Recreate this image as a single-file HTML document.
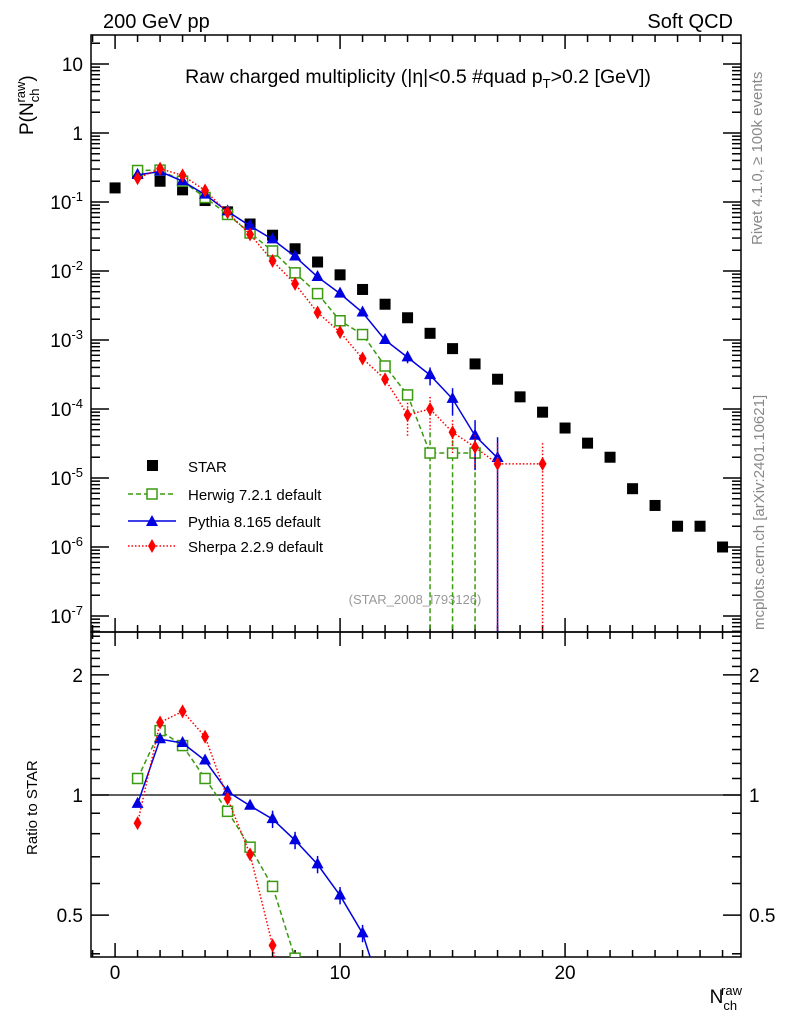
<!DOCTYPE html>
<html><head><meta charset="utf-8">
<style>
html,body{margin:0;padding:0;background:#fff;overflow:hidden;width:786px;height:1024px;}
svg{display:block;font-family:"Liberation Sans",sans-serif;}
</style></head>
<body>
<svg id="chart" width="786" height="1024" viewBox="0 0 786 1024">
<text x="103" y="28" font-size="20">200 GeV pp</text>
<text x="733" y="28" font-size="20" text-anchor="end">Soft QCD</text>
<rect x="91" y="35" width="650" height="597" fill="none" stroke="#000" stroke-width="1.5"/>
<rect x="91" y="632" width="650" height="325" fill="none" stroke="#000" stroke-width="1.5"/>
<text x="418" y="83" font-size="19.5" text-anchor="middle">Raw charged multiplicity (|η|&lt;0.5 #quad p<tspan font-size="13" dy="5">T</tspan><tspan dy="-5">&gt;0.2 [GeV])</tspan></text>
<text transform="translate(33,135) rotate(-90)" font-size="19">P(N<tspan font-size="13" dy="6">ch</tspan><tspan font-size="13" dy="-14" dx="-14">raw</tspan><tspan dy="8">)</tspan></text>
<text transform="translate(37,855) rotate(-90)" font-size="15">Ratio to STAR</text>
<text x="742" y="1003" font-size="19" text-anchor="end">N<tspan font-size="13" dy="7">ch</tspan><tspan font-size="13" dy="-15" dx="-16">raw</tspan></text>
<text transform="translate(762,245) rotate(-90)" font-size="15" fill="#888">Rivet 4.1.0, ≥ 100k events</text>
<text transform="translate(764,630) rotate(-90)" font-size="15" fill="#888">mcplots.cern.ch [arXiv:2401.10621]</text>
<text x="415" y="604" font-size="13" fill="#999" text-anchor="middle">(STAR_2008_I793126)</text>
<g id="axes"></g>
<g id="marks"></g>
<g id="legend">
<rect x="147" y="460" width="11" height="11" fill="#000"/>
<text x="188" y="472" font-size="15">STAR</text>
<line x1="128" y1="494" x2="176" y2="494" stroke="#3a9a10" stroke-width="1.5" stroke-dasharray="5,3"/>
<rect x="147" y="489" width="10" height="10" fill="#fff" stroke="#3a9a10" stroke-width="1.5"/>
<text x="188" y="500" font-size="15">Herwig 7.2.1 default</text>
<line x1="128" y1="521" x2="176" y2="521" stroke="#0000e0" stroke-width="1.5"/>
<polygon points="152,515 158,526 146,526" fill="#0000e0"/>
<text x="188" y="527" font-size="15">Pythia 8.165 default</text>
<line x1="128" y1="546" x2="176" y2="546" stroke="#f00" stroke-width="1.5" stroke-dasharray="1.5,2"/>
<polygon points="152,539 156,546 152,553 148,546" fill="#f00"/>
<text x="188" y="552" font-size="15">Sherpa 2.2.9 default</text>
</g>
<script>
const starN=[0,1,2,3,4,5,6,7,8,9,10,11,12,13,14,15,16,17,18,19,20,21,22,23,24,25,26,27];
const starVals=[0.16,0.26,0.2,0.15,0.105,0.072,0.048,0.033,0.021,0.0135,0.0088,0.0054,0.0033,0.0021,0.00125,0.00075,0.00045,0.00027,0.00015,0.00009,5.3e-5,3.2e-5,2e-5,7e-6,4e-6,2e-6,2e-6,1e-6];
const herwigN=[1,2,3,4,5,6,7,8,9,10,11,12,13,14,15,16];
const herwigVals=[0.286,0.29,0.2,0.116,0.066,0.0355,0.0195,0.0094,0.0047,0.0019,0.0012,0.00042,0.00016,2.3e-5,2.3e-5,2.3e-5];
const herwigRatio=[1.1,1.45,1.33,1.1,0.91,0.74,0.59,0.39];
const pythiaN=[1,2,3,4,5,6,7,8,9,10,11,12,13,14,15,16,17];
const pythiaVals=[0.247,0.276,0.2,0.128,0.073,0.045,0.0287,0.0162,0.0082,0.0047,0.0025,0.001,0.00056,0.00031,0.00014,4.1e-5,1.95e-5];
const pythiaErr=[0,0,0,0,0,0,0,0,0,0,0,0,0.0001,0.00009,0.00006,0.000028,0.000026];
const pythiaRatio=[0.95,1.38,1.35,1.22,1.02,0.94,0.87,0.77,0.67,0.56,0.45];
const sherpaN=[1,2,3,4,5,6,7,8,9,10,11,12,13,14,15,16,17,19];
const sherpaVals=[0.221,0.304,0.243,0.147,0.0706,0.034,0.014,0.0065,0.0025,0.0013,0.00054,0.00027,8.2e-5,1e-4,4.6e-5,2.8e-5,1.6e-5,1.6e-5];
const sherpaRatio=[0.85,1.52,1.62,1.4,0.98,0.71,0.42];
const ratioTicks=[0.5,1,2];
const xTicks=[0,10,20];
const NS="http://www.w3.org/2000/svg";
const X0=91,X1=741,xmin=-1.07,xmax=27.82;
const sx=v=>X0+(v-xmin)/(xmax-xmin)*(X1-X0);
const sy=v=>133-69*Math.log10(v);
const sr=v=>795-399*Math.log10(v);
const axes=document.getElementById('axes'),marks=document.getElementById('marks');
function mk(tag,attrs,parent){const e=document.createElementNS(NS,tag);for(const k in attrs)e.setAttribute(k,attrs[k]);parent.appendChild(e);return e;}
for(let i=-1;i<=27;i++){
  const x=sx(i),big=i%10===0,L=big?14:7;
  for(const [yt,yb] of [[35,632],[632,957]]){
    let t=mk('line',{x1:x,x2:x,y1:yb,y2:yb-L,stroke:'#000','stroke-width':1.5},axes);
    
    t=mk('line',{x1:x,x2:x,y1:yt,y2:yt+L,stroke:'#000','stroke-width':1.5},axes);
    
  }
}
xTicks.forEach(v=>{const t=mk('text',{x:sx(v),y:979,'font-size':19,'text-anchor':'middle'},axes);t.textContent=v;
});
for(let d=-8;d<=1;d++){for(let m=1;m<10;m++){const v=m*Math.pow(10,d),y=sy(v);if(y<35||y>632)continue;
  const L=m===1?18:9;
  for(const [xa,dir] of [[X0,1],[X1,-1]]){const t=mk('line',{x1:xa,x2:xa+dir*L,y1:y,y2:y,stroke:'#000','stroke-width':1.5},axes);
  }
  if(m===1){const t=mk('text',{x:83,y:y+7,'font-size':19,'text-anchor':'end'},axes);
    
    if(d===1)t.textContent='10';else if(d===0)t.textContent='1';
    else{t.textContent='10';const s=mk('tspan',{dy:-8,'font-size':13},t);s.textContent=String(d);}}
}}
for(let v=0.4;v<=2.55;v+=0.1){const y=sr(v);if(y<632||y>957)continue;
  const major=Math.abs(v-1)<1e-6||Math.abs(v-2)<1e-6||Math.abs(v-0.5)<1e-6;const L=major?18:9;
  for(const [xa,dir] of [[X0,1],[X1,-1]]){const t=mk('line',{x1:xa,x2:xa+dir*L,y1:y,y2:y,stroke:'#000','stroke-width':1.5},axes);
  }}
ratioTicks.forEach(v=>{for(const [x,a] of [[83,'end'],[749,'start']]){const t=mk('text',{x:x,y:sr(v)+7,'font-size':19,'text-anchor':a},axes);t.textContent=v;
}});
let ref=mk('line',{x1:X0,x2:X1,y1:sr(1),y2:sr(1),stroke:'#000','stroke-width':1.2},axes);

const defs=mk('defs',{},marks);
let c=mk('clipPath',{id:'cm'},defs);mk('rect',{x:X0,y:35,width:650,height:597},c);
c=mk('clipPath',{id:'cr'},defs);mk('rect',{x:X0,y:632,width:650,height:325},c);
const gm=mk('g',{'clip-path':'url(#cm)'},marks),gr=mk('g',{'clip-path':'url(#cr)'},marks);
function clampY(v,f){return v>0?f(v):1000;}
function series(N,vals,f,g,color,dash,marker,name,err){
  const pts=N.map((n,i)=>sx(n)+','+clampY(vals[i],f)).join(' ');
  const pl=mk('polyline',{points:pts,fill:'none',stroke:color,'stroke-width':1.5,'stroke-dasharray':dash},g);
  
  N.forEach((n,i)=>{const x=sx(n),y=f(vals[i]);
    if(err&&err[i]){const lo=vals[i]-err[i];const e=mk('line',{x1:x,x2:x,y1:f(vals[i]+err[i]),y2:lo>0?f(lo):1000,stroke:color,'stroke-width':1.5,'stroke-dasharray':dash},g);
      }
    let m;
    if(marker==='sq')m=mk('rect',{x:x-5,y:y-5,width:10,height:10,fill:'#fff',stroke:color,'stroke-width':1.5},g);
    else if(marker==='tri')m=mk('polygon',{points:`${x},${y-7} ${x+6},${y+4} ${x-6},${y+4}`,fill:color},g);
    else m=mk('polygon',{points:`${x},${y-7} ${x+4},${y} ${x},${y+7} ${x-4},${y}`,fill:color},g);
    });
}
starN.forEach((n,i)=>{const r=mk('rect',{x:sx(n)-5.5,y:sy(starVals[i])-5.5,width:11,height:11,fill:'#000'},gm);
});
const herwigErr=herwigVals.map((v,i)=>i>=13?v:0);
series(herwigN,herwigVals,sy,gm,'#3a9a10','5,3','sq','herwig',herwigErr);
series(pythiaN,pythiaVals,sy,gm,'#0000e0','','tri','pythia',pythiaErr.map((e,i)=>i===16?pythiaVals[16]:e));
const sherpaErr=sherpaVals.map((v,i)=>i>=12?(i>=16?v:v*0.5):0);
series(sherpaN,sherpaVals,sy,gm,'#f00','1.5,2','dia','sherpa',sherpaErr);
series(herwigN.slice(0,herwigRatio.length),herwigRatio,sr,gr,'#3a9a10','5,3','sq','herwig-ratio',null);
series(pythiaN.slice(0,pythiaRatio.length),pythiaRatio,sr,gr,'#0000e0','','tri','pythia-ratio',pythiaRatio.map((v,i)=>i>=6?v*0.05:0));
series(sherpaN.slice(0,sherpaRatio.length),sherpaRatio,sr,gr,'#f00','1.5,2','dia','sherpa-ratio',null);
[[herwigN,herwigRatio,'#3a9a10','5,3',0.22],[pythiaN,pythiaRatio,'#0000e0','',0.3],[sherpaN,sherpaRatio,'#f00','1.5,2',0.2]].forEach(([N,R,col,d,nv])=>{
  const k=R.length-1;const l=mk('line',{x1:sx(N[k]),y1:sr(R[k]),x2:sx(N[k+1]),y2:sr(nv),stroke:col,'stroke-width':1.5,'stroke-dasharray':d},gr);
  });
</script>
</svg>
</body></html>
